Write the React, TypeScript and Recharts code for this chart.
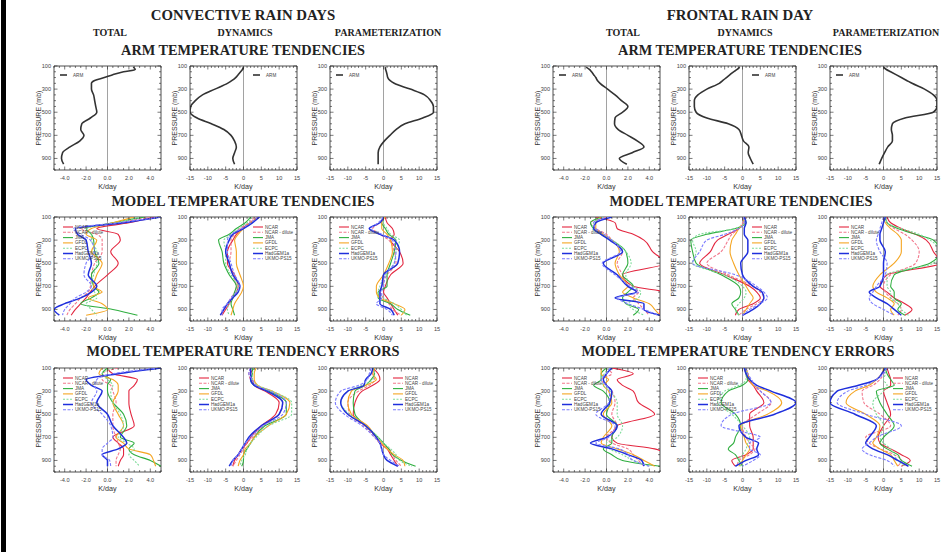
import React from 'react';
import { LineChart, Line, XAxis, YAxis, ReferenceLine, ReferenceArea } from 'recharts';

// ---------- levels & ticks ----------
const ARM_LEVELS = [110, 130, 150, 175, 200, 225, 250, 300, 350, 400, 450, 500, 550, 600, 650, 700, 750, 800, 850, 900, 950];
const MODEL_LEVELS = [100, 150, 200, 250, 300, 400, 500, 600, 700, 750, 800, 850, 900, 950];
const Y_TICKS = [100, 150, 200, 250, 300, 350, 400, 450, 500, 550, 600, 650, 700, 750, 800, 850, 900, 950, 1000];
const Y_LABELS = [100, 300, 500, 700, 900];
const TOTAL_X_TICKS = [-5, -4.5, -4, -3.5, -3, -2.5, -2, -1.5, -1, -0.5, 0, 0.5, 1, 1.5, 2, 2.5, 3, 3.5, 4, 4.5, 5];
const TOTAL_X_LABELS = [-4, -2, 0, 2, 4];
const DYN_X_TICKS = [-15, -14, -13, -12, -11, -10, -9, -8, -7, -6, -5, -4, -3, -2, -1, 0, 1, 2, 3, 4, 5, 6, 7, 8, 9, 10, 11, 12, 13, 14, 15];
const DYN_X_LABELS = [-15, -10, -5, 0, 5, 10, 15];

// ---------- ARM profiles ----------
const CONV_ARM_TOTAL = [2.4, 2.6, 1.5, 0.5, -0.3, -1.2, -1.5, -1.5, -1.3, -1.2, -1.1, -1.0, -1.6, -2.4, -2.5, -2.2, -2.6, -3.5, -4.2, -4.3, -4.1];
const CONV_ARM_DYN = [0, -0.3, -0.8, -1.5, -2.2, -3.2, -4.5, -8, -11.5, -13.5, -14.8, -15, -13, -9, -5.5, -3.5, -2.5, -2, -2.5, -3, -2.5];
const CONV_ARM_PARAM = [0.5, 0.6, 0.8, 1.0, 1.2, 1.8, 3.0, 7.5, 11.5, 13.2, 14, 14, 11, 6, 3.5, 1.8, 0.2, -1.0, -1.5, -1.5, -1.5];
const FRONT_ARM_TOTAL = [-1.9, -1.6, -1.4, -1.2, -1.0, -0.85, -0.6, 0.1, 0.8, 1.4, 2.0, 1.5, 0.8, 0.75, 1.1, 2.0, 2.9, 3.5, 2.4, 1.2, 1.9];
const FRONT_ARM_DYN = [-0.8, -1.5, -2.5, -3.5, -4.5, -5.5, -6.5, -10, -12.5, -13.5, -13.5, -13, -10, -4, -1, -0.3, 0.3, 1.8, 1.6, 2.2, 3.0];
const FRONT_ARM_PARAM = [0, 0.8, 2, 3.5, 5, 6.5, 8, 11.5, 14, 15, 15, 14, 6, 2.5, 2.2, 2.5, 2.5, 1.2, 0.3, -0.5, -1.2];

// ---------- model profiles (per panel) ----------
const CONV_MODEL_TOTAL = {
  ncar: [4.5, 2.0, -1.0, 1.0, 1.2, 0.3, 1.0, 0.0, -1.2, -1.6, -2.0, -2.5, -3.0, -3.4],
  dilute: [4.0, 1.0, -2.5, -1.0, -0.5, -0.5, -1.2, -1.5, -1.6, -1.8, -2.5, -3.0, -3.5, -3.8],
  jma: [3.5, 0.5, -2.0, -1.5, -1.3, -1.2, -0.8, -1.5, -1.3, -0.8, -1.5, -2.5, 0.5, 2.8],
  gfdl: [2.5, 0.5, -1.5, -2.0, -1.0, -1.5, -0.5, -1.0, -1.3, -0.5, -1.8, -0.5, 0.0, -2.0],
  ecpc: [3.0, 0.8, -2.0, -1.5, -1.5, -1.0, -1.0, -1.3, -1.5, -1.2, -1.0, -2.0, -1.5, -1.0],
  had: [5.0, 1.5, -3.0, -2.8, -2.0, -1.8, -1.5, -1.8, -1.0, -1.5, -2.5, -4.0, -5.0, -4.5],
  ukmo: [5.0, 1.0, -3.2, -2.5, -1.6, -1.2, -2.0, -2.2, -1.5, -2.0, -3.0, -3.5, -4.0, -4.2],
};
const CONV_MODEL_DYN = {
  ncar: [4, 2, -0.5, -2, -3, -4.5, -4.5, -2.5, -1.5, -2, -3, -4, -5, -6],
  dilute: [3, 1.5, -1, -2.5, -3.5, -3.5, -4, -3, -2, -2.5, -3.5, -4.5, -5.5, -6.5],
  jma: [2, 0.5, -2, -4, -7, -6, -5.5, -4, -2, -2.5, -3, -3.5, -3, -2.5],
  gfdl: [4.5, 2, 0, -1.5, -2.5, -2, -2, -1, 0, -0.5, -1.5, -2.5, -3, -3.5],
  ecpc: [2.5, 1, -1.5, -3, -5.5, -5, -5, -3.5, -1.5, -2, -3, -4, -4.5, -4],
  had: [4.5, 2.5, 0, -3, -4, -5, -4, -3, -1, -1.5, -3, -4.5, -5.5, -6.5],
  ukmo: [4, 2, -0.5, -3.5, -4.5, -4.5, -3.5, -2.5, -1, -2, -3.5, -4.5, -6, -6],
};
const CONV_MODEL_PARAM = {
  ncar: [0.5, 1, 2.5, 3, 2, 4.5, 5.5, 2, 0.5, 0, 1, 2, 3, 4],
  dilute: [0, -1, -3, -1, 1.5, 3, 3.5, 1, -0.5, -1, 0, 1.5, 2.5, 5],
  jma: [0, -0.5, 0.5, 1.5, 3.5, 3, 2, 1, 1, -1.5, -1.5, 2, 4, 7.5],
  gfdl: [0.5, -0.5, -0.5, 1, 2, 2.5, 1.5, 0, -2, -2, -1, 3, 6, 5],
  ecpc: [0, 0, 1, 2, 4.5, 3.5, 3, 0.5, -1, -1.5, 0, 3, 5, 6.5],
  had: [0, -1, -4, -1, 3, 4.5, 4, 0, -0.5, -1, -1, -1, 2, 3],
  ukmo: [0, -1.5, -3.5, -0.5, 2.5, 3.5, 3, 0.5, 0, -0.5, -0.5, -2, 1, 2.5],
};
const CONV_ERR_TOTAL = {
  ncar: [0, 0.5, 2.8, 2.5, 2.0, 2.0, 2.2, 2.5, 0.5, 1.0, 1.5, 1.5, 1.2, 1.0],
  dilute: [1.0, -0.5, -0.5, 0.3, 0.5, 0.8, 0.5, 0.5, 0.8, 1.0, 1.2, 1.0, 0.8, 0.8],
  jma: [0, -0.5, 0.3, 0, 0, 0.5, 1.5, 1.8, 1.2, 2.5, 2.0, 2.5, 4, 5],
  gfdl: [-0.5, -0.8, 0.5, 1.0, 1.0, 0.5, 1.0, 1.5, 0.8, 1.5, 2.0, 4.0, 4.3, 4.5],
  ecpc: [0.5, -0.5, 0, 0.5, 0.3, 0.5, 1.2, 1.5, 1.0, 1.8, 2.5, 2.0, 2.5, 3.0],
  had: [5, 1.0, -2, -1.5, -0.5, -1.0, 0, 0.5, 1.5, 1.8, 1.0, -0.5, 0, 0],
  ukmo: [4.5, 0.5, -1.0, -1.2, -1.0, -1.5, -0.5, 0.3, 0.5, 0, -0.5, -0.5, 0.2, 0.3],
};
const CONV_ERR_DYN = {
  ncar: [3, 2, 2.5, 3, 6, 10, 9, 5, 2, 1, -0.5, -1.5, -2.5, -3],
  dilute: [2, 1.5, 2, 3.5, 7, 11, 10, 5.5, 2.5, 1, 0, -1, -2, -3],
  jma: [2.5, 2.5, 2, 3, 7, 12, 12, 6, 3, 2, 1, 0, 0, -0.5],
  gfdl: [3.5, 3, 3, 4, 8, 13, 12, 7, 3, 2, 0.5, 0, -1, -1.5],
  ecpc: [3, 2.5, 2.5, 4, 8, 13.5, 13.5, 7, 3.5, 2, 1, 0.5, -0.5, -1],
  had: [2, 2, 2, 3, 6.5, 11, 10, 5, 1.5, 0.5, -0.5, -1.5, -3, -4],
  ukmo: [2, 1.5, 2.5, 3.5, 7.5, 12, 11, 5.5, 2, 0.5, -0.5, -1.5, -3, -3.5],
};
const CONV_ERR_PARAM = {
  ncar: [-3, -1.5, -1, -3, -6, -8, -8.5, -5, -2, -1, 1, 2, 3, 4],
  dilute: [-3, -3, -2.5, -4, -7, -10, -9.5, -5.5, -2.5, -1, 1.5, 2.5, 3.5, 5],
  jma: [-3, -2.5, -3.5, -5, -8, -8.5, -8, -5, -1.5, 0, 1.5, 2.5, 5, 9],
  gfdl: [-2.5, -3, -2, -5, -9, -10, -9, -4.5, -2, -0.5, 1, 3, 5.5, 6],
  ecpc: [-3, -2.5, -3, -6, -10, -12, -9.5, -5, -1.5, 0, 2, 3.5, 4.5, 8],
  had: [-3, -3.5, -5, -5.5, -10, -12, -10, -5, -2, -1, -0.5, 0, 1, 4],
  ukmo: [-3.5, -4, -4.5, -7, -12, -13.5, -11, -6, -2.5, -1, -0.5, 0, 2, 4.5],
};
const FRONT_MODEL_TOTAL = {
  ncar: [-1, 0.8, 1.0, 2.5, 3.5, 4.3, 5.5, 1.5, 2.5, 5.5, 6, 5.5, 5, 5],
  dilute: [0, -1.5, -1, 0, 0.5, 1.5, 1, 1.5, 2, 3, 2.5, 3, 3.5, 4],
  jma: [-0.5, -1.5, -1.2, -0.5, 0.5, 1.8, 2.0, 1.5, 2.5, 2.0, 1.5, 1.8, 3, 2.5],
  gfdl: [-0.5, -1.0, -1.0, -0.3, 0.5, 1.2, 0.8, 1.2, 2.0, 1.5, 2.5, 4.0, 4.5, 5],
  ecpc: [-0.3, -1.2, -1.3, -0.5, 0.5, 1.8, 2.3, 1.8, 2.5, 3.2, 3, 2, 2.5, 3.5],
  had: [0.5, -1.0, -1.2, -0.5, 0.3, 1.5, -0.3, 1.0, 2.0, 2.8, 0.8, 3.5, 3.5, 5],
  ukmo: [0.2, -1.2, -1.0, -0.2, 0.5, 1.3, -0.4, 0.8, 2.2, 3, 1, 2, 3.5, 4.8],
};
const FRONT_MODEL_DYN = {
  ncar: [0, 0.5, -1, -4, -7, -9, -12, -5, 2, 4, 5, 3, -1, -2],
  dilute: [1, 0, -1, -3, -4, -6, -10, -4, 3, 5, 6, 4, 1, -1],
  jma: [0.5, 1, -2, -10, -14.5, -14, -13, -6, -1, -0.5, -1, -3, -2, -1],
  gfdl: [0, 0.5, -1, -2, -3, -3.5, -2.5, -1, 1, 2, 3, 2, 1, 0],
  ecpc: [0.5, 0.5, -2, -12, -14, -13, -14, -5, 0, 1, 0.5, -1, -2, -1],
  had: [0.5, 1, 0.5, 0.5, 1.5, 1.5, -0.5, 0, 3, 5.5, 6, 5, 3, 0],
  ukmo: [0, 0.5, -1, -5, -10, -12, -14, -2, 4, 6, 7, 5, 2, 0],
};
const FRONT_MODEL_PARAM = {
  ncar: [1, 2, 5, 9, 12, 14, 16, 1, -1, 1, 3, 6, 8, 6],
  dilute: [0.5, 1, 3, 6, 8, 10, 9, 2, 0, 0.5, 2, 4, 5, 4],
  jma: [0.5, 1, 4, 9, 14, 16, 13, 3, 2, 3, 3, 5, 4, 6],
  gfdl: [0, 0.5, 2, 4, 5, 5, 3, -1, -3, -2, 1, 3, 2, 3],
  ecpc: [0.5, 1, 5, 10, 13, 16, 14, 1, 1, 2, 2, 4, 5, 7],
  had: [0.5, 0, -0.5, -1, -1, 0.5, 0, 0, -1, -4, -2, 1, 3, 5],
  ukmo: [0, -0.5, -1, -1.5, -2, -1, 1, 0.5, -2, -3, -4, -3, 0, 3],
};
const FRONT_ERR_TOTAL = {
  ncar: [0.5, 2.5, 1.0, 1.5, 2.5, 3.0, 4.5, 1.0, 0.5, 1.0, 4.5, 5.5, 5.5, 5],
  dilute: [0, 0.5, -0.5, 0, 0.5, 0.8, 0.5, 1.0, 0, 0.5, 2.0, 2.5, 3, 3.5],
  jma: [0, -0.5, -0.5, -1.2, -0.3, 0.3, 0.0, 1.0, 0.5, 0.5, -0.3, 0.5, 1.5, 5],
  gfdl: [-0.5, -0.5, 0.2, -0.3, 0.2, 0.5, -0.3, 0.5, -0.3, -0.5, 1.0, 2.5, 3.5, 4.5],
  ecpc: [0.2, -0.2, -0.5, -0.3, 0.3, 1.0, 1.0, 1.5, 1.0, 0, 0.3, 1.5, 2.5, 4],
  had: [0.5, 0.0, -0.3, 0.0, 0.5, 0.3, -0.5, 1.0, 0.0, -1.5, 0.5, 2.0, 3.3, 3.5],
  ukmo: [0.3, 0.0, -0.5, 0.0, 0.3, 0.2, -1.0, 0.8, 0.2, -1.0, 1.2, 2.0, 2.5, 4],
};
const FRONT_ERR_DYN = {
  ncar: [0.5, 1, 1.5, 3, 4, 6, 2, 2, 3, 3, 3, 1, -3, -2],
  dilute: [1, 1.5, 2, 3, 5, 8, 4, 0, 1, 2, 3.5, 2, -1, -1.5],
  jma: [1, 1, 1.5, 0, -4, -6, -2, -0.5, -2, -2.5, -4, -2, -1, 0],
  gfdl: [1, 1.5, 2, 3, 7, 11, 7, -0.5, 0.5, 1, 2, 1, 0, -1],
  ecpc: [0.5, 1, 1, -1, -5, -7, -3, 0, 2, 1.5, 1, 0, -1, -0.5],
  had: [0.5, 1, 2, 4, 8, 15, 9, -1, 1, 4.5, 4, 4.5, 1, -2],
  ukmo: [1, 1.5, 2.5, 3.5, 5, 8, -3, -6, 5, 2, 2, 5, 3, 0],
};
const FRONT_ERR_PARAM = {
  ncar: [1, 1.5, 2, 2, 0, 1, 2, 0, -1.5, -1, 2, 5, 7.5, 5],
  dilute: [0.5, 0, -1, -3, -6, -5.5, -1, 2, -5, -4, -1, 3, 5, 4],
  jma: [0.5, 1, 2, 3, -2, -1, 1, 3, 0, -1, 1, 4, 5, 8],
  gfdl: [0, -0.5, -2, -4, -8, -10.5, -5, -1, -2, -3, -1, 2, 3, 4],
  ecpc: [0.5, 0.5, 0, 1, 0, -3, -2, 0, -1, 0, 2, 3, 4, 6],
  had: [0.5, -0.5, -2, -7, -13, -15, -8, -2, -4, -5, -3, 1, 4, 7],
  ukmo: [1, 0, -2, -5, -10, -13, -5, 5, -2, -4, -6, -4, 1, 3],
};

// ---------- series styles ----------
const MODEL_SERIES = [
  { key: 'ncar', name: 'NCAR', color: '#e3263f', dash: undefined, width: 1.1 },
  { key: 'dilute', name: 'NCAR - dilute', color: '#f2788c', dash: '3 1.5', width: 1.1 },
  { key: 'jma', name: 'JMA', color: '#2fae3f', dash: undefined, width: 1.1 },
  { key: 'gfdl', name: 'GFDL', color: '#f5a623', dash: undefined, width: 1.1 },
  { key: 'ecpc', name: 'ECPC', color: '#7fdc9a', dash: '2 1.5', width: 1.1 },
  { key: 'had', name: 'HadGEM1a', color: '#1f2fdc', dash: undefined, width: 1.5 },
  { key: 'ukmo', name: 'UKMO-PS15', color: '#7b7bff', dash: '3 1.5', width: 1.1 },
];

type LineDef = { key: string; name: string; color: string; dash?: string; width: number; values: number[] };

const FW = 107;
const FH = 104;
const PL = 42;
const PT = 4;
const PR = 4;
const PB = 26;

function Panel(props: { fx: number; fy: number; total: boolean; levels: number[]; lines: LineDef[]; legendRight: boolean; arm?: boolean }) {
  const { fx, fy, total, levels, lines, legendRight, arm } = props;
  const W = FW + PL + PR;
  const H = FH + PT + PB;
  const data = levels.map((p, i) => {
    const r: Record<string, number> = { p };
    lines.forEach((l) => {
      r[l.key] = l.values[i];
    });
    return r;
  });
  const xTicks = total ? TOTAL_X_TICKS : DYN_X_TICKS;
  const xLabels = total ? TOTAL_X_LABELS : DYN_X_LABELS;
  const lim = total ? 5 : 15;
  const L = PL;
  const R = PL + FW;
  const T = PT;
  const B = PT + FH;
  const fmt = (v: number) => (total ? v.toFixed(1) : String(v));

  const renderXTick = (tp: any) => {
    const x = tp.x;
    const v = tp.payload.value;
    const major = xLabels.includes(v);
    const len = major ? 3.5 : 2;
    return (
      <g>
        <line x1={x} x2={x} y1={B} y2={B - len} stroke="#222" strokeWidth={0.6} />
        <line x1={x} x2={x} y1={T} y2={T + len} stroke="#222" strokeWidth={0.6} />
        {major && (
          <text x={x} y={B + 7.5} textAnchor="middle" dominantBaseline="central" fontSize={5.6} fill="#444" fontFamily="Liberation Sans, Arial, sans-serif">
            {fmt(v)}
          </text>
        )}
      </g>
    );
  };
  const renderYTick = (tp: any) => {
    const y = tp.y;
    const v = tp.payload.value;
    const major = Y_LABELS.includes(v);
    const len = major ? 3.5 : 2;
    return (
      <g>
        <line x1={L} x2={L + len} y1={y} y2={y} stroke="#222" strokeWidth={0.6} />
        <line x1={R - len} x2={R} y1={y} y2={y} stroke="#222" strokeWidth={0.6} />
        {major && (
          <text x={L - 3} y={y} textAnchor="end" dominantBaseline="central" fontSize={5.6} fill="#444" fontFamily="Liberation Sans, Arial, sans-serif">
            {v}
          </text>
        )}
      </g>
    );
  };
  const yLabel = () => (
    <text
      x={L - 16}
      y={T + FH / 2}
      transform={`rotate(-90 ${L - 16} ${T + FH / 2})`}
      textAnchor="middle"
      dominantBaseline="central"
      fontSize={7}
      fill="#333"
      fontFamily="Liberation Sans, Arial, sans-serif"
    >
      PRESSURE (mb)
    </text>
  );
  const xLabel = () => (
    <text x={L + FW / 2} y={B + 16} textAnchor="middle" dominantBaseline="central" fontSize={7.2} fill="#333" fontFamily="Liberation Sans, Arial, sans-serif">
      K/day
    </text>
  );

  const rowH = arm ? 0 : 5.3;
  const legLeft = arm ? (legendRight ? PL + 63 : PL + 6) : legendRight ? PL + 63 : PL + 9;
  const legTop = arm ? PT + 6 : PT + 7;

  return (
    <div style={{ position: 'absolute', left: fx - PL, top: fy - PT, width: W, height: H }}>
      <LineChart width={W} height={H} data={data} layout="vertical" margin={{ top: PT, right: PR, bottom: 0, left: 0 }}>
        <XAxis
          type="number"
          domain={[-lim, lim]}
          allowDataOverflow
          ticks={xTicks}
          interval={0}
          height={PB}
          tickLine={false}
          axisLine={false}
          tick={renderXTick}
          label={xLabel}
        />
        <YAxis
          type="number"
          dataKey="p"
          domain={[100, 1000]}
          allowDataOverflow
          ticks={Y_TICKS}
          interval={0}
          width={PL}
          tickLine={false}
          axisLine={false}
          tick={renderYTick}
          label={yLabel}
        />
        <ReferenceLine x={0} stroke="#8a8a8a" strokeWidth={0.8} />
        {lines.map((l) => (
          <Line
            key={l.key}
            dataKey={l.key}
            type="monotone"
            stroke={l.color}
            strokeWidth={l.width}
            strokeDasharray={l.dash}
            dot={false}
            activeDot={false}
            isAnimationActive={false}
          />
        ))}
        <ReferenceArea x1={-lim} x2={lim} y1={100} y2={1000} fill="none" stroke="#222" strokeWidth={0.8} ifOverflow="visible" />
      </LineChart>
      <svg style={{ position: 'absolute', left: legLeft, top: legTop }} width={46} height={arm ? 8 : lines.length * 5.3 + 4}>
        {lines.map((l, i) => (
          <g key={l.key}>
            <line x1={0} x2={arm ? 7 : 10} y1={3 + i * rowH} y2={3 + i * rowH} stroke={l.color} strokeWidth={l.width} strokeDasharray={l.dash} />
            <text x={arm ? 13 : 12} y={3 + i * rowH} fontSize={4.6} dominantBaseline="central" fill="#444" fontFamily="Liberation Sans, Arial, sans-serif">
              {l.name}
            </text>
          </g>
        ))}
      </svg>
    </div>
  );
}

const armLine = (values: number[]): LineDef[] => [{ key: 'arm', name: 'ARM', color: '#333', width: 1.6, values }];
const modelLines = (d: Record<string, number[]>): LineDef[] => MODEL_SERIES.map((s) => ({ ...s, values: d[s.key] }));

const CONV_X = [54, 190, 330];
const FRONT_X = [553, 689, 830];
const ROW_Y = [66, 217, 368];

function Title({ x, y, size, text }: { x: number; y: number; size: number; text: string }) {
  return (
    <div
      style={{
        position: 'absolute',
        left: x,
        top: y,
        transform: 'translate(-50%, -50%)',
        whiteSpace: 'nowrap',
        fontFamily: 'Liberation Serif, Times New Roman, serif',
        fontWeight: 'bold',
        fontSize: size,
        color: '#222',
        lineHeight: 1,
      }}
    >
      {text}
    </div>
  );
}

export default function App() {
  return (
    <div style={{ position: 'absolute', left: 0, top: 0, width: 951, height: 552, background: '#fff', overflow: 'hidden' }}>
      <div style={{ position: 'absolute', left: 1, top: 0, width: 5, height: 552, background: '#000' }} />

      <Title x={243} y={15} size={14.8} text="CONVECTIVE RAIN DAYS" />
      <Title x={110} y={33} size={10} text="TOTAL" />
      <Title x={245} y={33} size={10} text="DYNAMICS" />
      <Title x={388} y={33} size={10} text="PARAMETERIZATION" />
      <Title x={243} y={50} size={14.3} text="ARM TEMPERATURE TENDENCIES" />
      <Title x={243} y={201} size={14.3} text="MODEL TEMPERATURE TENDENCIES" />
      <Title x={243} y={351} size={14.3} text="MODEL TEMPERATURE TENDENCY ERRORS" />

      <Title x={740} y={15} size={14.8} text="FRONTAL RAIN DAY" />
      <Title x={623} y={33} size={10} text="TOTAL" />
      <Title x={745} y={33} size={10} text="DYNAMICS" />
      <Title x={886} y={33} size={10} text="PARAMETERIZATION" />
      <Title x={740} y={50} size={14.3} text="ARM TEMPERATURE TENDENCIES" />
      <Title x={741} y={201} size={14.3} text="MODEL TEMPERATURE TENDENCIES" />
      <Title x={738} y={351} size={14.3} text="MODEL TEMPERATURE TENDENCY ERRORS" />

      <Panel fx={CONV_X[0]} fy={ROW_Y[0]} total levels={ARM_LEVELS} lines={armLine(CONV_ARM_TOTAL)} legendRight={false} arm />
      <Panel fx={CONV_X[1]} fy={ROW_Y[0]} total={false} levels={ARM_LEVELS} lines={armLine(CONV_ARM_DYN)} legendRight arm />
      <Panel fx={CONV_X[2]} fy={ROW_Y[0]} total={false} levels={ARM_LEVELS} lines={armLine(CONV_ARM_PARAM)} legendRight={false} arm />
      <Panel fx={FRONT_X[0]} fy={ROW_Y[0]} total levels={ARM_LEVELS} lines={armLine(FRONT_ARM_TOTAL)} legendRight={false} arm />
      <Panel fx={FRONT_X[1]} fy={ROW_Y[0]} total={false} levels={ARM_LEVELS} lines={armLine(FRONT_ARM_DYN)} legendRight arm />
      <Panel fx={FRONT_X[2]} fy={ROW_Y[0]} total={false} levels={ARM_LEVELS} lines={armLine(FRONT_ARM_PARAM)} legendRight={false} arm />

      <Panel fx={CONV_X[0]} fy={ROW_Y[1]} total levels={MODEL_LEVELS} lines={modelLines(CONV_MODEL_TOTAL)} legendRight={false} />
      <Panel fx={CONV_X[1]} fy={ROW_Y[1]} total={false} levels={MODEL_LEVELS} lines={modelLines(CONV_MODEL_DYN)} legendRight />
      <Panel fx={CONV_X[2]} fy={ROW_Y[1]} total={false} levels={MODEL_LEVELS} lines={modelLines(CONV_MODEL_PARAM)} legendRight={false} />
      <Panel fx={FRONT_X[0]} fy={ROW_Y[1]} total levels={MODEL_LEVELS} lines={modelLines(FRONT_MODEL_TOTAL)} legendRight={false} />
      <Panel fx={FRONT_X[1]} fy={ROW_Y[1]} total={false} levels={MODEL_LEVELS} lines={modelLines(FRONT_MODEL_DYN)} legendRight />
      <Panel fx={FRONT_X[2]} fy={ROW_Y[1]} total={false} levels={MODEL_LEVELS} lines={modelLines(FRONT_MODEL_PARAM)} legendRight={false} />

      <Panel fx={CONV_X[0]} fy={ROW_Y[2]} total levels={MODEL_LEVELS} lines={modelLines(CONV_ERR_TOTAL)} legendRight={false} />
      <Panel fx={CONV_X[1]} fy={ROW_Y[2]} total={false} levels={MODEL_LEVELS} lines={modelLines(CONV_ERR_DYN)} legendRight={false} />
      <Panel fx={CONV_X[2]} fy={ROW_Y[2]} total={false} levels={MODEL_LEVELS} lines={modelLines(CONV_ERR_PARAM)} legendRight />
      <Panel fx={FRONT_X[0]} fy={ROW_Y[2]} total levels={MODEL_LEVELS} lines={modelLines(FRONT_ERR_TOTAL)} legendRight={false} />
      <Panel fx={FRONT_X[1]} fy={ROW_Y[2]} total={false} levels={MODEL_LEVELS} lines={modelLines(FRONT_ERR_DYN)} legendRight={false} />
      <Panel fx={FRONT_X[2]} fy={ROW_Y[2]} total={false} levels={MODEL_LEVELS} lines={modelLines(FRONT_ERR_PARAM)} legendRight />
    </div>
  );
}
